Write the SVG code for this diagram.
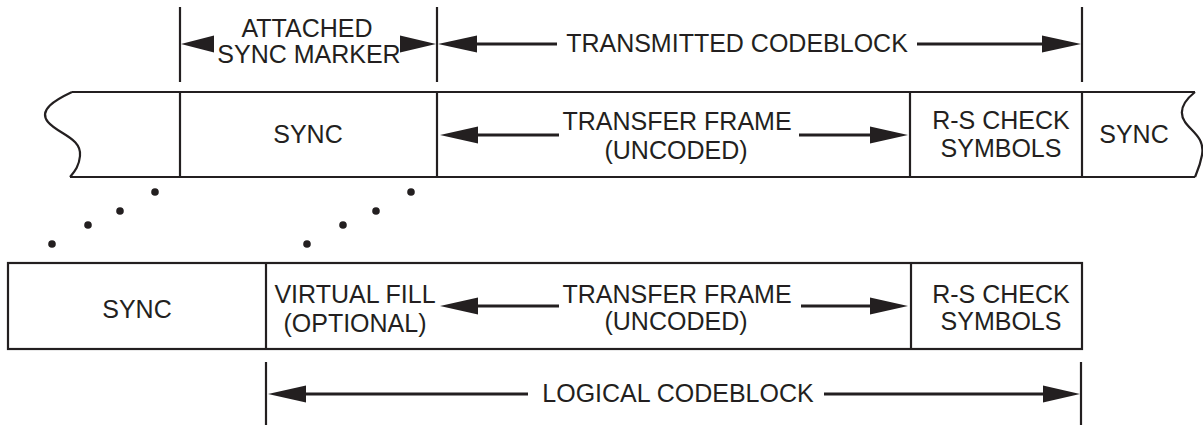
<svg xmlns="http://www.w3.org/2000/svg" width="1203" height="425" viewBox="0 0 1203 425">
<style>
text{font-family:"Liberation Sans",Arial,sans-serif;font-size:25px;fill:#231f20;text-anchor:middle}
.box{fill:none;stroke:#231f20;stroke-width:2.2}
.dim{stroke:#231f20;stroke-width:2.2;fill:none}
.arr{stroke:#231f20;stroke-width:3;fill:none}
.ah{fill:#231f20}
.dot{fill:#231f20}
</style>
<rect width="1203" height="425" fill="#fff"/>
<g id="top-strip">
<path class="box" d="M72,92 L1195,92 M70,177 L1195,177"/>
<path class="box" d="M72,92 C55,100 38,110 48,122 C58,134 82,138 80,156 C79,167 74,172 70,177"/>
<path class="box" d="M1195,92 C1185,100 1177,110 1185,122 C1192,132 1205,138 1202,155 C1200,166 1197,172 1195,177"/>
</g>
<g id="top-sync">
<line class="box" x1="180" y1="92" x2="180" y2="177"/>
<text x="308" y="143">SYNC</text>
</g>
<g id="top-transfer-frame">
<line class="box" x1="437" y1="92" x2="437" y2="177"/>
<text x="677" y="130">TRANSFER FRAME</text>
<text x="676" y="159">(UNCODED)</text>
</g>
<g id="top-rs">
<line class="box" x1="910" y1="92" x2="910" y2="177"/>
<text x="1001" y="129">R-S CHECK</text>
<text x="1001" y="157">SYMBOLS</text>
</g>
<g id="top-sync-right">
<line class="box" x1="1082" y1="92" x2="1082" y2="177"/>
<text x="1134" y="143">SYNC</text>
</g>
<g id="bottom-sync">
<rect class="box" x="8" y="263" width="1074" height="86"/>
<text x="137" y="318">SYNC</text>
</g>
<g id="bottom-virtual-fill">
<line class="box" x1="266" y1="263" x2="266" y2="349"/>
<text x="355" y="303">VIRTUAL FILL</text>
<text x="355" y="332">(OPTIONAL)</text>
</g>
<g id="bottom-transfer-frame">
<text x="677" y="303">TRANSFER FRAME</text>
<text x="676" y="330">(UNCODED)</text>
</g>
<g id="bottom-rs">
<line class="box" x1="911" y1="263" x2="911" y2="349"/>
<text x="1001" y="303">R-S CHECK</text>
<text x="1001" y="330">SYMBOLS</text>
</g>
<g id="labels">
<text x="307" y="37">ATTACHED</text>
<text x="309" y="63">SYNC MARKER</text>
<text x="737" y="52">TRANSMITTED CODEBLOCK</text>
<text x="678" y="402">LOGICAL CODEBLOCK</text>
</g>
<g id="connectors">
<path class="dim" d="M180,7 V82 M437,7 V82 M1082,7 V82 M266,362 V425 M1081,362 V425"/>
<path class="ah" d="M181,44 L214,35.5 L214,52.5 Z M436,44 L400,35.5 L400,52.5 Z"/>
<line class="arr" x1="477" y1="44" x2="557" y2="44"/>
<path class="ah" d="M438,44 L477,35.5 L477,52.5 Z"/>
<line class="arr" x1="917" y1="44" x2="1042" y2="44"/>
<path class="ah" d="M1081,44 L1042,35.5 L1042,52.5 Z"/>
<line class="arr" x1="477" y1="135" x2="559" y2="135"/>
<path class="ah" d="M440,135 L478,126.5 L478,143.5 Z"/>
<line class="arr" x1="799" y1="135" x2="870" y2="135"/>
<path class="ah" d="M908,135 L870,126.5 L870,143.5 Z"/>
<line class="arr" x1="477" y1="306" x2="559" y2="306"/>
<path class="ah" d="M440,306 L478,297.5 L478,314.5 Z"/>
<line class="arr" x1="801" y1="306" x2="870" y2="306"/>
<path class="ah" d="M908,306 L870,297.5 L870,314.5 Z"/>
<path class="ah" d="M268,394 L306,385.5 L306,402.5 Z"/>
<line class="arr" x1="306" y1="394" x2="528" y2="394"/>
<line class="arr" x1="824" y1="394" x2="1043" y2="394"/>
<path class="ah" d="M1080,394 L1043,385.5 L1043,402.5 Z"/>
<circle class="dot" cx="155" cy="192" r="3.8"/>
<circle class="dot" cx="120" cy="211" r="3.8"/>
<circle class="dot" cx="88" cy="225" r="3.8"/>
<circle class="dot" cx="52" cy="244" r="3.8"/>
<circle class="dot" cx="411" cy="192" r="3.8"/>
<circle class="dot" cx="376" cy="211" r="3.8"/>
<circle class="dot" cx="343" cy="225" r="3.8"/>
<circle class="dot" cx="307" cy="244" r="3.8"/>
</g>
</svg>
